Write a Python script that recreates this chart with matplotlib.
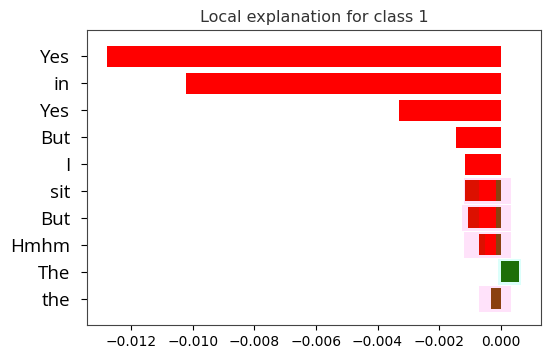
import matplotlib
matplotlib.use("Agg")
import matplotlib.pyplot as plt
import numpy as np

# Data
features = ["Yes", "in", "Yes", "But", "I", "sit", "But", "Hmhm", "The", "the"]
main_values = [-0.01280, -0.01023, -0.00330, -0.00145, -0.00116, -0.00117, -0.00107, -0.00071, 0.0, 0.0]
second_values = [0.0, 0.0, 0.0, 0.0, 0.0, -0.00016, -0.00016, -0.00016, 0.00059, -0.00031]
dark_left = [0.0, 0.0, 0.0, 0.0, 0.0, -0.00117, -0.00107, -0.00071, 0.0, 0.0]
dark_width = [0.0, 0.0, 0.0, 0.0, 0.0, 0.00047, 0.00037, 0.00020, 0.0, 0.0]
halo_left = [0.0, 0.0, 0.0, 0.0, 0.0, -0.00120, -0.00125, -0.00118, -0.00008, -0.00070]
halo_width = [0.0, 0.0, 0.0, 0.0, 0.0, 0.00155, 0.00160, 0.00153, 0.00075, 0.00103]
halo_colors = ["none"] * 5 + ["#ffe2fa", "#ffe2fa", "#ffe2fa", "#dcfffb", "#ffe2fa"]

fig = plt.figure(figsize=(5.5, 3.55), dpi=100)
ax = fig.add_axes([0.158, 0.0845, 0.8256, 0.831])

n = len(features)
pos = np.arange(n)[::-1]

ax.barh(pos, halo_width, left=halo_left, height=0.95, color=halo_colors, zorder=1)
ax.barh(pos, main_values, height=0.78, color="#ff0000", zorder=2)
ax.barh(pos, dark_width, left=dark_left, height=0.78, color="#dc1000", zorder=3)
sec_colors = ["#1e6e08" if v > 0 else "#8a4010" for v in second_values]
ax.barh(pos, second_values, height=0.78, color=sec_colors, zorder=4)

ax.set_yticks(pos)
ax.set_yticklabels(features, fontsize=13.5, family="Open Sans")
ax.tick_params(axis="y", pad=8, length=4)
ax.set_xlim(-0.01344, 0.00131)
ax.set_xticks([-0.012, -0.010, -0.008, -0.006, -0.004, -0.002, 0.000])
ax.tick_params(axis="x", labelsize=10)
ax.set_title("Local explanation for class 1", fontsize=11.5, color="#333333")
for s in ax.spines.values():
    s.set_color("#444444")

fig.savefig("out.png", dpi=100)
